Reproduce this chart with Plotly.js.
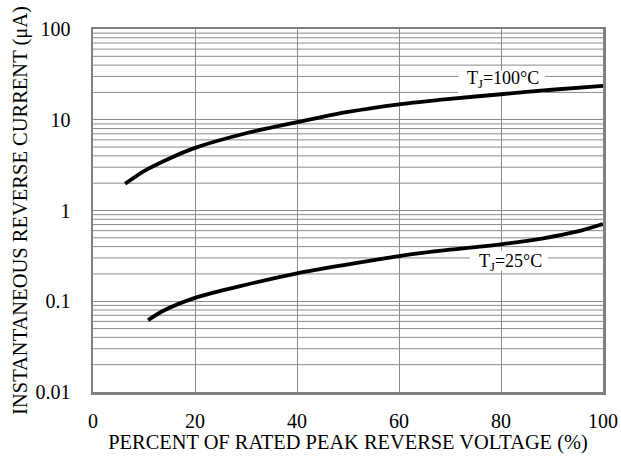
<!DOCTYPE html>
<html><head><meta charset="utf-8">
<script src="https://cdn.plot.ly/plotly-3.0.1.min.js"></script>
<style>body{margin:0;background:#fff}#c{width:621px;height:460px}</style>
</head><body><div id="c"></div>
<script>
const x100 = [6.3, 10, 15, 20, 30, 40, 50, 60, 70, 80, 90, 100];
const y100 = [1.97, 2.72, 3.75, 4.9, 7.1, 9.4, 12.2, 14.8, 17.0, 19.1, 21.4, 23.6];
const x25 = [10.8, 13.8, 20, 30, 40, 50, 60, 70, 80, 88.3, 94.8, 100];
const y25 = [0.062, 0.0787, 0.109, 0.152, 0.203, 0.255, 0.315, 0.37, 0.424, 0.494, 0.584, 0.71];
const yTicks = [0.01, 0.1, 1, 10, 100];
const yTickText = ["0.01", "0.1", "1", "10", "100"];
const xTicks = [0, 20, 40, 60, 80, 100];
const decades = [0.01, 0.1, 1, 10];
const minorSteps = [2, 3, 4, 5, 6, 7, 8, 9];
const labels = ['T<sub>J</sub>=100°C', 'T<sub>J</sub>=25°C'];

const minor = [];
for (const d of decades) for (const k of minorSteps) minor.push(d * k);

const grid = '#8a8a8a';
const shapes = minor.map(v => ({type:'line', xref:'paper', yref:'y', x0:0, x1:1, y0:v, y1:v, line:{color:grid, width:1}, layer:'between'}));
// white label backgrounds (behind the curves)
shapes.push({type:'rect', xref:'x', yref:'y', x0:71.6, x1:88.6, y0:18.9, y1:35, fillcolor:'#fff', line:{width:0}, layer:'between'});
shapes.push({type:'rect', xref:'x', yref:'y', x0:73.9, x1:89.2, y0:0.217, y1:0.36, fillcolor:'#fff', line:{width:0}, layer:'between'});

const traces = [
 {x:x100, y:y100, mode:'lines', line:{color:'#000', width:3.8, shape:'spline', smoothing:0.8}, hoverinfo:'skip'},
 {x:x25, y:y25, mode:'lines', line:{color:'#000', width:3.8, shape:'spline', smoothing:0.8}, hoverinfo:'skip'}
];
const fam = 'Liberation Serif, Times New Roman, serif';
const layout = {
 width:621, height:460, showlegend:false,
 margin:{l:93, r:18, t:29, b:68},
 paper_bgcolor:'#fff', plot_bgcolor:'#fff',
 font:{family:fam, color:'#000'},
 xaxis:{range:[0,100], tickvals:xTicks, showgrid:true, gridcolor:grid, gridwidth:1, zeroline:false,
   showline:true, linecolor:'#808080', linewidth:2.5, mirror:true, ticks:'outside', ticklen:9, tickcolor:'rgba(0,0,0,0)',
   tickfont:{size:20, family:fam, color:'#000'},
   title:{text:'PERCENT OF RATED PEAK REVERSE VOLTAGE (%)', font:{size:20.4, family:fam, color:'#000'}, standoff:4}},
 yaxis:{type:'log', range:[-2,2], tickvals:yTicks, ticktext:yTickText, showgrid:true, gridcolor:grid, gridwidth:1,
   zeroline:false, showline:true, linecolor:'#808080', linewidth:2.5, mirror:true, ticks:'outside', ticklen:16, tickcolor:'rgba(0,0,0,0)',
   tickfont:{size:20, family:fam, color:'#000'},
   title:{text:'INSTANTANEOUS REVERSE CURRENT (μA)', font:{size:20.5, family:fam, color:'#000'}, standoff:3}},
 shapes:shapes,
 annotations:[
  {x:80.3, y:Math.log10(27.5), xref:'x', yref:'y', text:labels[0], showarrow:false, font:{size:18, family:fam, color:'#000'}},
  {x:81.8, y:Math.log10(0.264), xref:'x', yref:'y', text:labels[1], showarrow:false, font:{size:18, family:fam, color:'#000'}}
 ]
};
Plotly.newPlot('c', traces, layout, {staticPlot:true});
</script></body></html>
